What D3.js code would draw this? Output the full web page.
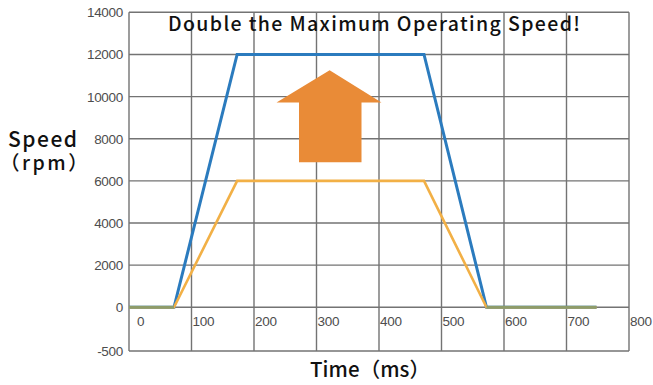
<!DOCTYPE html>
<html><head><meta charset="utf-8">
<script src="https://cdn.jsdelivr.net/npm/d3@7/dist/d3.min.js"></script>
<style>
html,body{margin:0;padding:0;background:#fff;}
svg{display:block;}
</style></head>
<body>
<script>
// ---- data ----
const timeMs      = [0, 72, 173, 472, 572, 748];
const speedDouble = [0, 0, 12000, 12000, 0, 0];
const speedOrig   = [0, 0, 6000, 6000, 0, 0];
const xTicks = [0, 100, 200, 300, 400, 500, 600, 700, 800];
const yTicks = [-500, 0, 2000, 4000, 6000, 8000, 10000, 12000, 14000];
// arrow annotation outline in data units (ms, rpm)
const arrowT = [321, 404, 372, 372, 272, 272, 236];
const arrowV = [11250, 9720, 9720, 6880, 6880, 9720, 9720];
const titleText = "Double the Maximum Operating Speed!";
const yLabel1 = "Speed", yLabel2 = "（rpm）", xLabel = "Time（ms）";

const W = 653, H = 385;
const svg = d3.select("body").append("svg").attr("width", W).attr("height", H);

const x = d3.scaleLinear().domain([0, 800]).range([129, 629]);
// the reference draws the -500 band with the same height as a 2000 band
const y = d3.scaleLinear().domain([-500, 0, 14000]).range([351, 307.3, 12.3]);

const gridColor = "#737373";
const g = svg.append("g");
// grid
g.selectAll("line.h").data(yTicks).join("line")
  .attr("x1", x(0)).attr("x2", x(800))
  .attr("y1", d => y(d)).attr("y2", d => y(d))
  .attr("stroke", gridColor).attr("stroke-width", 1.4);
g.selectAll("line.v").data(xTicks).join("line")
  .attr("y1", y(-500)).attr("y2", y(14000))
  .attr("x1", d => x(d)).attr("x2", d => x(d))
  .attr("stroke", gridColor).attr("stroke-width", 1.4);

// tick labels
const tickFont = "'Liberation Sans', Arial, sans-serif";
g.selectAll("text.yt").data(yTicks).join("text")
  .attr("x", 123).attr("y", d => y(d) + 5)
  .attr("text-anchor", "end")
  .attr("font-family", tickFont).attr("font-size", 13.5)
  .attr("letter-spacing", -0.3)
  .attr("fill", "#4d4d4d").text(d => d);
g.selectAll("text.xt").data(xTicks).join("text")
  .attr("x", d => x(d) + (d === 0 ? 8 : 1)).attr("y", 326)
  .attr("text-anchor", "start")
  .attr("font-family", tickFont).attr("font-size", 13.5)
  .attr("letter-spacing", -0.3)
  .attr("fill", "#4d4d4d").text(d => d);

// arrow
const arrowPts = arrowT.map((t, i) => [x(t), y(arrowV[i])]);
g.append("path").attr("d", d3.line()(arrowPts) + "Z").attr("fill", "#E98B37");

// lines
const pts = (vals) => timeMs.map((t, i) => ({t, v: vals[i]}));
const line = d3.line().x(d => x(d.t)).y(d => y(d.v));
g.append("path").datum(pts(speedDouble)).attr("d", line)
  .attr("fill", "none").attr("stroke", "#2B7BBE").attr("stroke-width", 3);
g.append("path").datum(pts(speedOrig)).attr("d", line)
  .attr("fill", "none").attr("stroke", "#F2B046").attr("stroke-width", 2.6);
// segments where both curves coincide (idle, 0 rpm)
const both = timeMs.map((t, i) => ({t, v: speedOrig[i], same: speedOrig[i] === speedDouble[i]}));
const sameLine = d3.line().defined(d => d.same).x(d => x(d.t)).y(d => y(d.v));
g.append("path").datum(both).attr("d", sameLine)
  .attr("fill", "none").attr("stroke", "#8E9C6A").attr("stroke-width", 3);

// texts
const cjk = "'Noto Sans CJK SC', sans-serif";
svg.append("text").attr("x", 168).attr("y", 30.5)
  .attr("font-family", cjk).attr("font-size", 19.5).attr("font-weight", 500)
  .attr("textLength", 412).attr("lengthAdjust", "spacing")
  .attr("fill", "#111").text(titleText);
svg.append("text").attr("x", 8).attr("y", 146.5)
  .attr("font-family", cjk).attr("font-size", 21).attr("font-weight", 500)
  .attr("textLength", 69).attr("lengthAdjust", "spacing")
  .attr("fill", "#111").text(yLabel1);
svg.append("text").attr("x", 0).attr("y", 169.5)
  .attr("font-family", cjk).attr("font-size", 19.5).attr("font-weight", 500)
  .attr("letter-spacing", 2.5)
  .attr("fill", "#111").text(yLabel2);
svg.append("text").attr("x", 310).attr("y", 377)
  .attr("font-family", cjk).attr("font-size", 20.5).attr("font-weight", 500)
  .attr("textLength", 120).attr("lengthAdjust", "spacing")
  .attr("fill", "#111").text(xLabel);
</script>
</body></html>
